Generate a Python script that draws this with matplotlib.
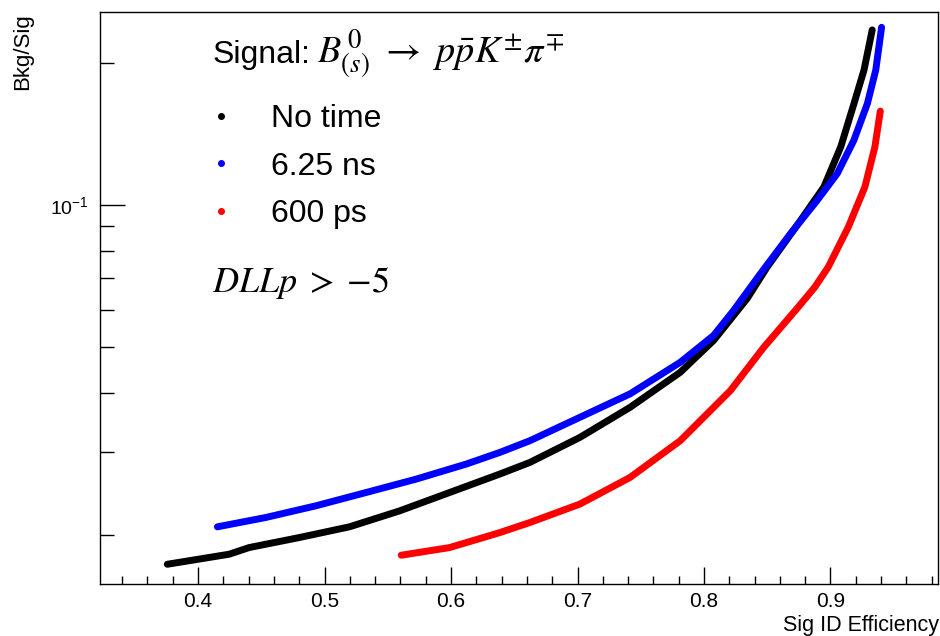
import matplotlib
matplotlib.use('Agg')
import matplotlib.pyplot as plt
from matplotlib.lines import Line2D
from matplotlib.ticker import FixedLocator, FixedFormatter, MultipleLocator, NullFormatter

plt.rcParams['font.family'] = ['Liberation Sans', 'DejaVu Sans']
plt.rcParams['mathtext.fontset'] = 'stix'

# values (efficiency, bkg/sig)
eff_notime = [0.3757, 0.4246, 0.4404, 0.4800, 0.5197, 0.5593, 0.5989, 0.6385, 0.6623,
              0.7019, 0.7415, 0.7812, 0.8076, 0.8341, 0.8499, 0.8764, 0.8948, 0.9081,
              0.9186, 0.9265, 0.9330]
bs_notime = [0.01733, 0.01820, 0.01880, 0.01974, 0.02080, 0.02248, 0.02459, 0.02690, 0.02847,
             0.03217, 0.03724, 0.04418, 0.05161, 0.0633, 0.07380, 0.09271, 0.1091, 0.1326,
             0.1639, 0.1929, 0.2346]

eff_625ns = [0.4153, 0.4536, 0.4933, 0.5329, 0.5725, 0.6121, 0.6385, 0.6623, 0.7019,
             0.7415, 0.7812, 0.8076, 0.8234, 0.8446, 0.8684, 0.8895, 0.9054, 0.9185,
             0.9292, 0.9358, 0.9404]
bs_625ns = [0.02080, 0.02177, 0.02305, 0.02459, 0.02625, 0.02825, 0.02989, 0.03165, 0.03548,
            0.03977, 0.04639, 0.05288, 0.05973, 0.07145, 0.08688, 0.1022, 0.1165, 0.1370,
            0.1639, 0.1929, 0.2376]

eff_600ps = [0.5606, 0.5989, 0.6385, 0.6623, 0.7019, 0.7415, 0.7812, 0.8209, 0.8473,
             0.8744, 0.8876, 0.8982, 0.9141, 0.9272, 0.9351, 0.9394]
bs_600ps = [0.01811, 0.01880, 0.02022, 0.02124, 0.02324, 0.02646, 0.03165, 0.04042, 0.04993,
            0.06068, 0.06693, 0.07380, 0.08972, 0.1091, 0.1326, 0.1579]

labels = ['No time', '6.25 ns', '600 ps']
colors = ['black', 'blue', 'red']

fig = plt.figure(figsize=(9.4, 6.36), dpi=100)
ax = fig.add_axes([100 / 940, 1 - 584 / 636, 838 / 940, 572 / 636])

# black first, then blue, red on top
ax.plot(eff_notime, bs_notime, color='black', lw=5, solid_capstyle='round', solid_joinstyle='round')
ax.plot(eff_625ns, bs_625ns, color='blue', lw=5, solid_capstyle='round', solid_joinstyle='round')
ax.plot(eff_600ps, bs_600ps, color='red', lw=5, solid_capstyle='round', solid_joinstyle='round')

ax.set_yscale('log')
ax.set_xlim(0.3225, 0.985)
ax.set_ylim(0.01574, 0.256)

ax.xaxis.set_major_locator(FixedLocator([0.4, 0.5, 0.6, 0.7, 0.8, 0.9]))
ax.xaxis.set_minor_locator(MultipleLocator(0.02))
ax.yaxis.set_major_locator(FixedLocator([0.1]))
ax.yaxis.set_major_formatter(FixedFormatter([r'$\mathregular{10^{-1}}$']))
ax.yaxis.set_minor_locator(FixedLocator([0.02, 0.03, 0.04, 0.05, 0.06, 0.07, 0.08, 0.09, 0.2]))
ax.yaxis.set_minor_formatter(NullFormatter())

ax.tick_params(axis='x', which='major', direction='in', length=12, width=1, labelsize=15, pad=6)
ax.tick_params(axis='x', which='minor', direction='in', length=6, width=1)
ax.tick_params(axis='y', which='major', direction='in', length=18, width=1, labelsize=14, pad=8)
ax.tick_params(axis='y', which='minor', direction='in', length=10, width=1)
for s in ax.spines.values():
    s.set_linewidth(1)

fig.text(0.999, 1 - 625 / 636, 'Sig ID Efficiency', ha='right', va='center', fontsize=15.5)
fig.text(23 / 940, 1 - 13 / 636, 'Bkg/Sig', rotation=90, ha='center', va='top', fontsize=16)

t_sig = ax.text(0.1337, 0.925, 'Signal:', transform=ax.transAxes, fontsize=23,
                va='center', ha='left')
ax.annotate(r'$B^{\,0}_{(s)}\ \rightarrow\ p\bar{p}K^{\pm}\pi^{\mp}$', xy=(1, 0.5), xycoords=t_sig,
            xytext=(5, 1), textcoords='offset points', fontsize=27.5, va='center', ha='left')
ax.text(0.1337, 0.526, r'$DLLp\;>\;{-}5$', transform=ax.transAxes, fontsize=26,
        va='center', ha='left')

handles = [Line2D([], [], marker='o', ls='none', color=c, markersize=4) for c in colors]
ax.legend(handles, labels, loc='upper left', bbox_to_anchor=(0.1253, 0.839),
          frameon=False, fontsize=23, borderpad=0, borderaxespad=0,
          handlelength=1.0, handletextpad=1.06, labelspacing=0.55)

plt.savefig('out.png', dpi=100)
plt.close()
